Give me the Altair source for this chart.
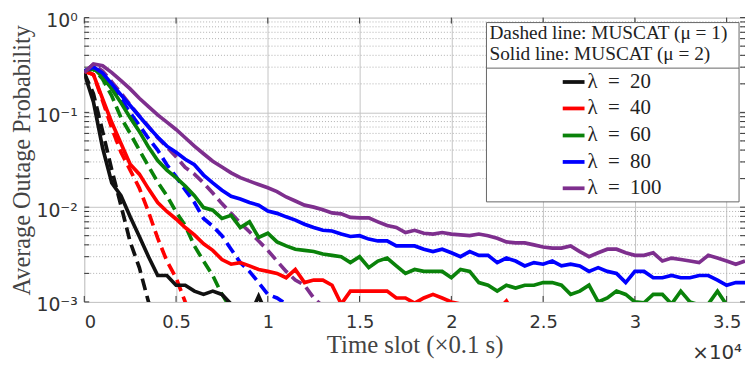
import altair as alt
import pandas as pd

STEP = 500  # time-slot sampling of the curves

# lambda labels and colours
labels = ["λ\u2002=\u200220", "λ\u2002=\u200240", "λ\u2002=\u200260", "λ\u2002=\u200280", "λ\u2002=\u2002100"]
colors = ["#111111", "#ff0000", "#0a820a", "#0000ff", "#7e2f8e"]

# Solid lines: MUSCAT (mu = 2)
black_solid = [0.26, 0.129, 0.042, 0.018, 0.0132, 0.0079, 0.0049, 0.0030, 0.0019, 0.0019,
               0.0015, 0.0015, 0.0013, 0.0012, 0.0013, 0.0012, 0.00095, 0.0008, 0.0007, 0.00115,
               0.0007, 0.0006, 0.0005]
red_solid = [0.273, 0.25, 0.139, 0.078, 0.047, 0.0284, 0.0223, 0.0156, 0.0112, 0.0090,
             0.0075, 0.0061, 0.0051, 0.0041, 0.0035, 0.0028, 0.0025, 0.0026, 0.0024, 0.0022,
             0.0021, 0.0020, 0.0018, 0.0022, 0.0016, 0.0017, 0.0017, 0.0015, 0.00095, 0.0013,
             0.0013, 0.0013, 0.0013, 0.0013, 0.0011, 0.0011, 0.00097, 0.0011, 0.0012, 0.0011,
             0.0010, 0.00095, 0.0007, 0.0006, 0.0007, 0.0008, 0.00102, 0.0007, 0.0006, 0.0007,
             0.0006, 0.0007, 0.0006, 0.0007, 0.0006, 0.0005, 0.0006, 0.0007, 0.0006, 0.0005,
             0.0006, 0.0006, 0.0005, 0.0006, 0.0005, 0.0006, 0.0005, 0.0006, 0.0005, 0.0005,
             0.0006, 0.0005, 0.0005]
green_solid = [0.273, 0.293, 0.236, 0.177, 0.126, 0.088, 0.063, 0.043, 0.031, 0.0246,
               0.0205, 0.0167, 0.0132, 0.0099, 0.0093, 0.0076, 0.0082, 0.0061, 0.0070, 0.0048,
               0.0053, 0.0043, 0.0039, 0.0036, 0.0035, 0.0034, 0.0032, 0.0031, 0.0030, 0.0026,
               0.0030, 0.0023, 0.0027, 0.0029, 0.0024, 0.0020, 0.0022, 0.0021, 0.0021, 0.0021,
               0.0018, 0.0022, 0.0021, 0.0016, 0.0015, 0.0013, 0.0015, 0.0014, 0.0015, 0.0015,
               0.0016, 0.0016, 0.0015, 0.0012, 0.0013, 0.0015, 0.0010, 0.0011, 0.0013, 0.0012,
               0.0010, 0.00098, 0.0012, 0.0012, 0.00095, 0.0013, 0.0010, 0.00093, 0.00095, 0.0013,
               0.00093, 0.00090, 0.00095]
blue_solid = [0.273, 0.30, 0.26, 0.20, 0.153, 0.118, 0.091, 0.070, 0.055, 0.044,
              0.038, 0.032, 0.028, 0.0218, 0.018, 0.0151, 0.0130, 0.0122, 0.0112, 0.0105,
              0.0091, 0.0086, 0.0079, 0.0073, 0.0066, 0.0061, 0.0057, 0.0056, 0.0052, 0.0049,
              0.0050, 0.0046, 0.0044, 0.0044, 0.0039, 0.0039, 0.0039, 0.0036, 0.0034, 0.0036,
              0.0033, 0.0030, 0.0034, 0.0031, 0.0031, 0.0026, 0.0029, 0.0027, 0.0024, 0.0026,
              0.0025, 0.0027, 0.0024, 0.0025, 0.0024, 0.0021, 0.0023, 0.0021, 0.0020, 0.0016,
              0.0021, 0.0021, 0.0018, 0.0018, 0.0019, 0.0018, 0.0018, 0.0019, 0.0019, 0.0017,
              0.0015, 0.0016, 0.0016]
purple_solid = [0.262, 0.325, 0.31, 0.263, 0.216, 0.177, 0.141, 0.115, 0.094, 0.079,
                0.066, 0.054, 0.044, 0.0366, 0.0305, 0.0265, 0.023, 0.0205, 0.0188, 0.0173,
                0.0160, 0.0146, 0.0128, 0.0116, 0.0105, 0.0100, 0.0094, 0.0087, 0.0085, 0.0078,
                0.0077, 0.0077, 0.0070, 0.0064, 0.0061, 0.0054, 0.0057, 0.0053, 0.0052, 0.0054,
                0.0052, 0.0051, 0.0050, 0.0052, 0.0050, 0.0047, 0.0043, 0.0042, 0.0042, 0.0040,
                0.0038, 0.0037, 0.0037, 0.0039, 0.0034, 0.0030, 0.0033, 0.0036, 0.0036, 0.0033,
                0.0031, 0.0031, 0.0033, 0.0027, 0.0029, 0.0028, 0.0027, 0.0026, 0.0031, 0.0029,
                0.0027, 0.0025, 0.0027]

# Dashed lines: MUSCAT (mu = 1)
black_dash = [0.26, 0.157, 0.063, 0.0246, 0.0104, 0.0043, 0.0023, 0.0010, 0.0005]
red_dash = [0.273, 0.25, 0.132, 0.068, 0.038, 0.0246, 0.0159, 0.0089, 0.0047, 0.0027,
            0.0018, 0.0010, 0.0006]
green_dash = [0.273, 0.286, 0.225, 0.149, 0.088, 0.060, 0.040, 0.027, 0.0184, 0.0132,
              0.0089, 0.0064, 0.0039, 0.0027, 0.0019, 0.0012, 0.00085, 0.0006]
blue_dash = [0.273, 0.30, 0.254, 0.181, 0.139, 0.099, 0.073, 0.053, 0.040, 0.028,
             0.021, 0.0152, 0.0112, 0.0076, 0.0063, 0.0050, 0.0036, 0.0026, 0.0021, 0.0016,
             0.0012, 0.0011, 0.00095, 0.0007]
purple_dash = [0.266, 0.32, 0.273, 0.21, 0.16, 0.12, 0.092, 0.071, 0.054, 0.043,
               0.034, 0.0263, 0.0223, 0.018, 0.0141, 0.0109, 0.0086, 0.0068, 0.0055, 0.0044,
               0.0035, 0.0027, 0.0021, 0.0017, 0.0015, 0.0011, 0.0009, 0.0006]

x_ticks = [0, 5000, 10000, 15000, 20000, 25000, 30000, 35000]
y_ticks = [0.001, 0.01, 0.1, 1]
y_minor = [m * d for d in (0.001, 0.01, 0.1) for m in range(2, 10)]

solids = [black_solid, red_solid, green_solid, blue_solid, purple_solid]
dashes = [black_dash, red_dash, green_dash, blue_dash, purple_dash]


def long_frame(series_list):
    rows = []
    for lab, vals in zip(labels, series_list):
        for i, v in enumerate(vals):
            rows.append({"t": i * STEP, "p": v, "lam": lab})
    return pd.DataFrame(rows)


df_solid = long_frame(solids)
df_dash = long_frame(dashes)

W, H = 667, 287
SANS = "DejaVu Sans"
SERIF = "Liberation Serif"

xscale = alt.Scale(domain=[0, 36000], nice=False, zero=False)
yscale = alt.Scale(type="log", domain=[0.001, 1], nice=False)
cscale = alt.Scale(domain=labels, range=colors)

x_axis = alt.Axis(values=x_ticks, labelExpr="'' + datum.value/10000", grid=True,
                  gridColor="#c4c4c4", gridWidth=1, ticks=False, domain=False,
                  labelFont=SANS, labelFontSize=18, labelColor="#333333", labelPadding=12,
                  title="Time slot (×0.1 s)", titleFont=SERIF, titleFontSize=25,
                  titleFontWeight="normal", titleColor="#444444", titleY=51,
                  titleBaseline="alphabetic")
y_axis = alt.Axis(values=y_ticks,
                  labelExpr="datum.value >= 1 ? '10⁰' : datum.value >= 0.1 ? '10⁻¹' : datum.value >= 0.01 ? '10⁻²' : '10⁻³'",
                  grid=True, gridColor="#c4c4c4", gridWidth=1, ticks=False, domain=False,
                  labelFont=SANS, labelFontSize=19, labelColor="#333333", labelPadding=7,
                  labelOffset=3,
                  title="Average Outage Probability", titleFont=SERIF, titleFontSize=24.5,
                  titleFontWeight="normal", titleColor="#444444", titleX=-55,
                  titleBaseline="alphabetic")

minor = alt.Chart(pd.DataFrame({"v": y_minor})).mark_rule(
    color="#b0b0b0", strokeWidth=1, strokeDash=[1, 2]
).encode(y=alt.Y("v:Q", scale=yscale, axis=y_axis))

# inward tick marks on left and right edges (MATLAB box style)
ytick_vals = pd.DataFrame({"v": y_minor + y_ticks})
ticks_left = alt.Chart(ytick_vals).mark_rule(color="#333333", strokeWidth=1).encode(
    y=alt.Y("v:Q", scale=yscale), x=alt.value(0), x2=alt.value(5))
ticks_right = alt.Chart(ytick_vals).mark_rule(color="#333333", strokeWidth=1).encode(
    y=alt.Y("v:Q", scale=yscale), x=alt.value(W - 5), x2=alt.value(W))
xtick_vals = pd.DataFrame({"t": x_ticks})
ticks_bottom = alt.Chart(xtick_vals).mark_rule(color="#333333", strokeWidth=1).encode(
    x=alt.X("t:Q", scale=xscale), y=alt.value(H - 6), y2=alt.value(H))
ticks_top = alt.Chart(xtick_vals).mark_rule(color="#333333", strokeWidth=1).encode(
    x=alt.X("t:Q", scale=xscale), y=alt.value(0), y2=alt.value(6))

dash_layer = alt.Chart(df_dash).mark_line(strokeWidth=3.7, strokeDash=[12, 6], clip=True).encode(
    x=alt.X("t:Q", scale=xscale, axis=x_axis),
    y=alt.Y("p:Q", scale=yscale),
    color=alt.Color("lam:N", scale=cscale, legend=None),
    order=alt.Order("t:Q"),
)
solid_layer = alt.Chart(df_solid).mark_line(strokeWidth=3.7, clip=True).encode(
    x=alt.X("t:Q", scale=xscale),
    y=alt.Y("p:Q", scale=yscale),
    color=alt.Color("lam:N", scale=cscale, legend=None),
    order=alt.Order("t:Q"),
)

one = pd.DataFrame({"a": [0]})
# legend box
box = alt.Chart(one).mark_rect(fill="white", stroke="#666666", strokeWidth=1).encode(
    x=alt.value(406), x2=alt.value(661), y=alt.value(5), y2=alt.value(186))
divider = alt.Chart(one).mark_rule(color="#666666", strokeWidth=1).encode(
    x=alt.value(406), x2=alt.value(661), y=alt.value(51))
header1 = alt.Chart(one).mark_text(text="Dashed line: MUSCAT (μ = 1)", align="left",
                                   baseline="middle", font=SERIF, fontSize=19.5, color="#222222").encode(
    x=alt.value(409), y=alt.value(16))
header2 = alt.Chart(one).mark_text(text="Solid line: MUSCAT (μ = 2)", align="left",
                                   baseline="middle", font=SERIF, fontSize=19.5, color="#222222").encode(
    x=alt.value(409), y=alt.value(37))

legend_layers = [box, divider, header1, header2]
entry_y = [65, 91.7, 119, 145.7, 172.3]
for lab, col, yy in zip(labels, colors, entry_y):
    legend_layers.append(alt.Chart(one).mark_rule(color=col, strokeWidth=3.8).encode(
        x=alt.value(483), x2=alt.value(505), y=alt.value(yy)))
    legend_layers.append(alt.Chart(one).mark_text(text=lab, align="left", baseline="middle",
                                                  font=SERIF, fontSize=21, color="#222222").encode(
        x=alt.value(508), y=alt.value(yy)))

expo = alt.Chart(one).mark_text(text="×10⁴", align="right", baseline="alphabetic",
                                font=SANS, fontSize=20, color="#333333").encode(
    x=alt.value(664), y=alt.value(345))

chart = alt.layer(minor, ticks_left, ticks_right, ticks_bottom, ticks_top,
                  dash_layer, solid_layer, *legend_layers, expo).properties(
    width=W, height=H,
    padding={"left": 77, "top": 8, "right": 0, "bottom": 64},
    autosize=alt.AutoSizeParams(type="none"),
).configure_view(stroke="#333333", strokeWidth=1).configure(background="white")

chart.save("out.html", embed_options={"renderer": "svg", "actions": False})
